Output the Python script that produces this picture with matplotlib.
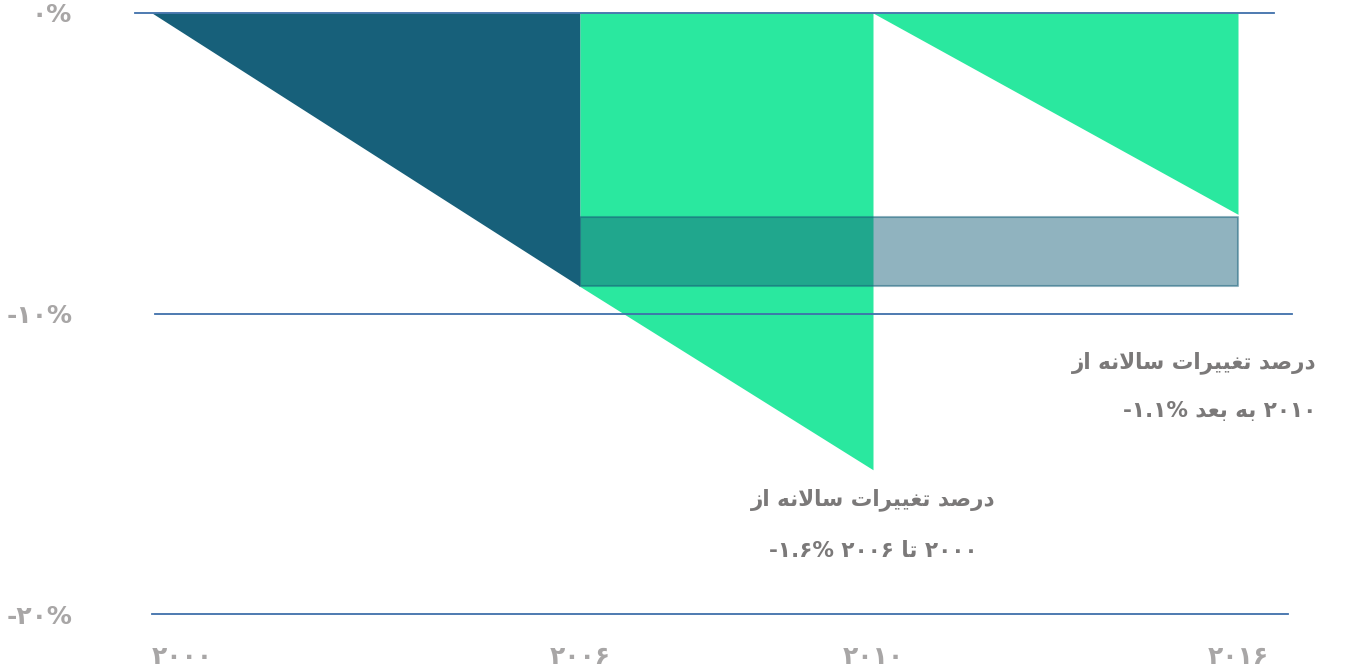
import matplotlib
matplotlib.use("Agg")
import matplotlib.pyplot as plt
import matplotlib.transforms as mtransforms
import numpy as np

# ── Data ──────────────────────────────────────────────────────────────────────
tick_years = [2000, 2006, 2010, 2016]
tick_year_labels = ["۲۰۰۰", "۲۰۰۶", "۲۰۱۰", "۲۰۱۶"]
pct_ticks = [0, -10, -20]
pct_labels = ["۰%", "-۱۰%", "-۲۰%"]

# cumulative change (%) at the 2000-2006 annual rate
trend_years = [2000, 2006, 2010]
trend_vals = [0, -9.1, -15.2]

# cumulative change (%) from 2010 at the post-2010 annual rate
post_years = [2010, 2016]
post_vals = [0, -6.7]

# band between the two paths
band_years = [2006, 2016]
band_low = -9.1
band_high = -6.8

note_right = ["درصد تغییرات سالانه از", "۲۰۱۰ به بعد -۱.۱%"]
note_bottom = ["درصد تغییرات سالانه از", "۲۰۰۰ تا ۲۰۰۶ -۱.۶%"]

# ── Minimal Persian shaping (matplotlib has no RTL layout) ───────────────────
FORMS = {
    "ا": ("\uFE8D", "\uFE8E"),
    "ب": ("\uFE8F", "\uFE90", "\uFE91", "\uFE92"),
    "ت": ("\uFE95", "\uFE96", "\uFE97", "\uFE98"),
    "د": ("\uFEA9", "\uFEAA"),
    "ر": ("\uFEAD", "\uFEAE"),
    "ز": ("\uFEAF", "\uFEB0"),
    "س": ("\uFEB1", "\uFEB2", "\uFEB3", "\uFEB4"),
    "ص": ("\uFEB9", "\uFEBA", "\uFEBB", "\uFEBC"),
    "ع": ("\uFEC9", "\uFECA", "\uFECB", "\uFECC"),
    "غ": ("\uFECD", "\uFECE", "\uFECF", "\uFED0"),
    "ل": ("\uFEDD", "\uFEDE", "\uFEDF", "\uFEE0"),
    "ن": ("\uFEE5", "\uFEE6", "\uFEE7", "\uFEE8"),
    "ه": ("\uFEE9", "\uFEEA", "\uFEEB", "\uFEEC"),
    "ی": ("\uFBFC", "\uFBFD", "\uFBFE", "\uFBFF"),
}
LAM_ALEF = ("\uFEFB", "\uFEFC")


def shape_word(word):
    letters = []
    i = 0
    while i < len(word):
        if word[i] == "ل" and i + 1 < len(word) and word[i + 1] == "ا":
            letters.append("لا")
            i += 2
        else:
            letters.append(word[i])
            i += 1
    out = []
    for k, ch in enumerate(letters):
        forms = LAM_ALEF if ch == "لا" else FORMS.get(ch)
        if forms is None:
            out.append(ch)
            continue
        prev = letters[k - 1] if k > 0 else None
        nxt = letters[k + 1] if k + 1 < len(letters) else None
        prev_joins = prev is not None and len(FORMS.get(prev, ())) == 4
        next_joins = len(forms) == 4 and nxt is not None and (nxt == "لا" or nxt in FORMS)
        if prev_joins and next_joins:
            out.append(forms[3])
        elif prev_joins:
            out.append(forms[1])
        elif next_joins:
            out.append(forms[2])
        else:
            out.append(forms[0])
    return "".join(reversed(out))


def rtl(text):
    tokens = text.split(" ")
    vis = [shape_word(t) if any(c in FORMS for c in t) else t for t in tokens]
    return " ".join(reversed(vis))


# ── Styling ───────────────────────────────────────────────────────────────────
DARK = "#17607a"
GREEN = "#2ae89f"
GRID = "#3f70aa"
TICK_GRAY = "#a8a6a6"
NOTE_GRAY = "#7b7979"
FONT = ["DejaVu Sans"]

W, H, DPI = 1349, 672, 100

# x positions of the year ticks are not evenly spaced in the design
year_anchor = [1900, 2000, 2006, 2010, 2016, 2100]
pix_anchor = [152 - 100 * 71.33, 152, 580, 873, 1238, 1238 + 84 * 60.83]


def fwd(x):
    return np.interp(x, year_anchor, pix_anchor)


def inv(p):
    return np.interp(p, pix_anchor, year_anchor)


fig = plt.figure(figsize=(W / DPI, H / DPI), dpi=DPI)
fig.patch.set_facecolor("white")
ax_l, ax_r, ax_t, ax_b = 100, 1340, 5, 630
ax = fig.add_axes([ax_l / W, (H - ax_b) / H, (ax_r - ax_l) / W, (ax_b - ax_t) / H])
ax.set_xscale("function", functions=(fwd, inv))
ax.set_xlim(inv(ax_l), inv(ax_r))
px_per_pct = (614 - 13) / 20
ax.set_ylim(-(ax_b - 13) / px_per_pct, (13 - ax_t) / px_per_pct)

# shapes
ax.fill_between(trend_years[:2], 0, trend_vals[:2], color=DARK, linewidth=0, zorder=1)
ax.fill_between(trend_years[1:], 0, trend_vals[1:], color=GREEN, linewidth=0, zorder=1)
ax.fill_between(post_years, 0, post_vals, color=GREEN, linewidth=0, zorder=1)
ax.fill_between(band_years, band_low, band_high, facecolor=DARK, alpha=0.48,
                edgecolor=(0.09, 0.38, 0.48, 0.45), linewidth=1.5, zorder=2)

# gridlines (each one has its own extent in the design)
grid_extent = {0: (135, 1274), -10: (155, 1292), -20: (152, 1288)}
for v in pct_ticks:
    x0, x1 = grid_extent[v]
    ax.axhline(v, xmin=(x0 - ax_l) / (ax_r - ax_l), xmax=(x1 - ax_l) / (ax_r - ax_l),
               color=GRID, linewidth=1.3, zorder=3)

for s in ax.spines.values():
    s.set_visible(False)
ax.set_xticks(tick_years)
ax.set_xticklabels(tick_year_labels)
ax.set_yticks(pct_ticks)
ax.set_yticklabels(pct_labels)
ax.tick_params(length=0, colors=TICK_GRAY)
ax.tick_params(axis="y", pad=20)
ax.tick_params(axis="x", pad=11)
for lab in ax.get_xticklabels() + ax.get_yticklabels():
    lab.set_fontfamily(FONT)
    lab.set_fontweight("bold")
    lab.set_fontsize(18)
ax.get_xticklabels()[0].set_horizontalalignment("left")

# notes
right_tr = mtransforms.offset_copy(ax.transData, fig=fig, x=78, y=0, units="dots")
for i, line in enumerate(note_right):
    ax.text(2016, -11.65 - 1.6 * i, rtl(line), transform=right_tr, ha="right", va="center",
            fontsize=15.5, fontweight="bold", color=NOTE_GRAY, family=FONT)
for i, line in enumerate(note_bottom):
    ax.text(2010, -16.2 - 1.72 * i, rtl(line), ha="center", va="center",
            fontsize=15.5, fontweight="bold", color=NOTE_GRAY, family=FONT)

fig.savefig("out.png", dpi=DPI, facecolor="white")
